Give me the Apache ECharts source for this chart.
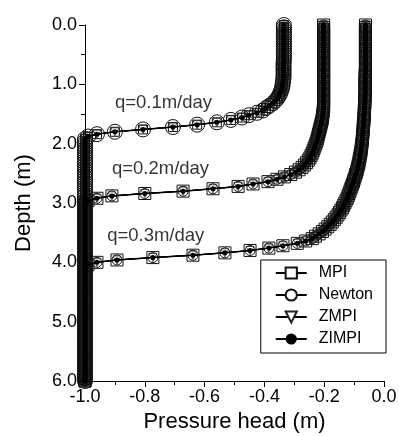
<!DOCTYPE html>
<html>
<head>
<meta charset="utf-8">
<script src="https://cdn.jsdelivr.net/npm/echarts@6/dist/echarts.min.js"></script>
<style>
html,body{margin:0;padding:0;background:#fff;}
#chart{width:399px;height:436px;}
</style>
</head>
<body>
<div id="chart"></div>
<script>
// Depth nodes (m)
const depth = [
 0.00,0.04,0.08,0.12,0.16,0.20,0.24,0.28,0.32,0.36,
 0.40,0.44,0.48,0.52,0.56,0.60,0.64,0.68,0.72,0.76,
 0.80,0.84,0.88,0.92,0.96,1.00,1.04,1.08,1.12,1.16,
 1.20,1.24,1.28,1.32,1.36,1.40,1.44,1.48,1.52,1.56,
 1.60,1.64,1.68,1.72,1.76,1.80,1.84,1.88,1.92,1.96,
 2.00,2.04,2.08,2.12,2.16,2.20,2.24,2.28,2.32,2.36,
 2.40,2.44,2.48,2.52,2.56,2.60,2.64,2.68,2.72,2.76,
 2.80,2.84,2.88,2.92,2.96,3.00,3.04,3.08,3.12,3.16,
 3.20,3.24,3.28,3.32,3.36,3.40,3.44,3.48,3.52,3.56,
 3.60,3.64,3.68,3.72,3.76,3.80,3.84,3.88,3.92,3.96,
 4.00,4.04,4.08,4.12,4.16,4.20,4.24,4.28,4.32,4.36,
 4.40,4.44,4.48,4.52,4.56,4.60,4.64,4.68,4.72,4.76,
 4.80,4.84,4.88,4.92,4.96,5.00,5.04,5.08,5.12,5.16,
 5.20,5.24,5.28,5.32,5.36,5.40,5.44,5.48,5.52,5.56,
 5.60,5.64,5.68,5.72,5.76,5.80,5.84,5.88,5.92,5.96,
 6.00];

// Pressure head (m), q = 0.1 m/day
const p01 = [
 -0.335,-0.335,-0.335,-0.335,-0.335,-0.335,-0.335,-0.335,-0.335,-0.335,
 -0.335,-0.335,-0.335,-0.335,-0.335,-0.335,-0.336,-0.336,-0.336,-0.336,
 -0.336,-0.336,-0.336,-0.337,-0.338,-0.339,-0.340,-0.342,-0.345,-0.348,
 -0.352,-0.357,-0.364,-0.372,-0.383,-0.395,-0.405,-0.425,-0.452,-0.475,
 -0.512,-0.559,-0.625,-0.706,-0.806,-0.900,-0.960,-0.990,-1.0,-1.0,
 -1.0,-1.0,-1.0,-1.0,-1.0,-1.0,-1.0,-1.0,-1.0,-1.0,
 -1.0,-1.0,-1.0,-1.0,-1.0,-1.0,-1.0,-1.0,-1.0,-1.0,
 -1.0,-1.0,-1.0,-1.0,-1.0,-1.0,-1.0,-1.0,-1.0,-1.0,
 -1.0,-1.0,-1.0,-1.0,-1.0,-1.0,-1.0,-1.0,-1.0,-1.0,
 -1.0,-1.0,-1.0,-1.0,-1.0,-1.0,-1.0,-1.0,-1.0,-1.0,
 -1.0,-1.0,-1.0,-1.0,-1.0,-1.0,-1.0,-1.0,-1.0,-1.0,
 -1.0,-1.0,-1.0,-1.0,-1.0,-1.0,-1.0,-1.0,-1.0,-1.0,
 -1.0,-1.0,-1.0,-1.0,-1.0,-1.0,-1.0,-1.0,-1.0,-1.0,
 -1.0,-1.0,-1.0,-1.0,-1.0,-1.0,-1.0,-1.0,-1.0,-1.0,
 -1.0,-1.0,-1.0,-1.0,-1.0,-1.0,-1.0,-1.0,-1.0,-1.0,
 -1.0];

// Pressure head (m), q = 0.2 m/day
const p02 = [
 -0.202,-0.202,-0.202,-0.202,-0.202,-0.202,-0.202,-0.202,-0.202,-0.202,
 -0.202,-0.202,-0.202,-0.202,-0.202,-0.202,-0.202,-0.202,-0.202,-0.202,
 -0.202,-0.202,-0.202,-0.202,-0.202,-0.202,-0.202,-0.202,-0.202,-0.202,
 -0.202,-0.202,-0.202,-0.202,-0.202,-0.202,-0.203,-0.204,-0.205,-0.206,
 -0.207,-0.209,-0.211,-0.213,-0.215,-0.217,-0.219,-0.221,-0.223,-0.225,
 -0.228,-0.231,-0.234,-0.237,-0.240,-0.244,-0.248,-0.253,-0.259,-0.266,
 -0.274,-0.284,-0.296,-0.312,-0.333,-0.358,-0.388,-0.438,-0.488,-0.572,
 -0.672,-0.800,-0.910,-0.960,-0.990,-1.0,-1.0,-1.0,-1.0,-1.0,
 -1.0,-1.0,-1.0,-1.0,-1.0,-1.0,-1.0,-1.0,-1.0,-1.0,
 -1.0,-1.0,-1.0,-1.0,-1.0,-1.0,-1.0,-1.0,-1.0,-1.0,
 -1.0,-1.0,-1.0,-1.0,-1.0,-1.0,-1.0,-1.0,-1.0,-1.0,
 -1.0,-1.0,-1.0,-1.0,-1.0,-1.0,-1.0,-1.0,-1.0,-1.0,
 -1.0,-1.0,-1.0,-1.0,-1.0,-1.0,-1.0,-1.0,-1.0,-1.0,
 -1.0,-1.0,-1.0,-1.0,-1.0,-1.0,-1.0,-1.0,-1.0,-1.0,
 -1.0,-1.0,-1.0,-1.0,-1.0,-1.0,-1.0,-1.0,-1.0,-1.0,
 -1.0];

// Pressure head (m), q = 0.3 m/day
const p03 = [
 -0.062,-0.062,-0.062,-0.062,-0.062,-0.062,-0.062,-0.062,-0.062,-0.062,
 -0.062,-0.062,-0.062,-0.062,-0.062,-0.062,-0.062,-0.062,-0.062,-0.062,
 -0.062,-0.063,-0.063,-0.063,-0.063,-0.063,-0.063,-0.063,-0.063,-0.063,
 -0.063,-0.064,-0.064,-0.064,-0.065,-0.065,-0.066,-0.066,-0.066,-0.067,
 -0.067,-0.068,-0.069,-0.069,-0.070,-0.070,-0.071,-0.072,-0.072,-0.073,
 -0.074,-0.075,-0.076,-0.077,-0.078,-0.080,-0.081,-0.083,-0.084,-0.086,
 -0.088,-0.090,-0.092,-0.095,-0.097,-0.100,-0.102,-0.105,-0.108,-0.111,
 -0.114,-0.117,-0.120,-0.123,-0.127,-0.131,-0.135,-0.139,-0.144,-0.149,
 -0.154,-0.160,-0.166,-0.173,-0.180,-0.188,-0.197,-0.206,-0.217,-0.229,
 -0.240,-0.262,-0.290,-0.338,-0.385,-0.448,-0.532,-0.639,-0.773,-0.893,
 -0.960,-0.990,-1.0,-1.0,-1.0,-1.0,-1.0,-1.0,-1.0,-1.0,
 -1.0,-1.0,-1.0,-1.0,-1.0,-1.0,-1.0,-1.0,-1.0,-1.0,
 -1.0,-1.0,-1.0,-1.0,-1.0,-1.0,-1.0,-1.0,-1.0,-1.0,
 -1.0,-1.0,-1.0,-1.0,-1.0,-1.0,-1.0,-1.0,-1.0,-1.0,
 -1.0,-1.0,-1.0,-1.0,-1.0,-1.0,-1.0,-1.0,-1.0,-1.0,
 -1.0];

const seriesNames = ['MPI', 'Newton', 'ZMPI', 'ZIMPI'];
const xTickLabels = ['-1.0', '-0.8', '-0.6', '-0.4', '-0.2', '0.0'];
const yTickLabels = ['0.0', '1.0', '2.0', '3.0', '4.0', '5.0', '6.0'];
const annotText = ['q=0.1m/day', 'q=0.2m/day', 'q=0.3m/day'];
const annotX = [-0.90, -0.91, -0.926];
const annotY = [1.31, 2.42, 3.55];

const FONT = "'Liberation Sans', Arial, sans-serif";
const profiles = [p01, p02, p03];

const methodStyle = {
  MPI:    { symbol: 'rect',     sizes: [9, 12, 12],  rotate: 0,   fill: 'rgba(0,0,0,0)', border: '#111', bw: 1 },
  Newton: { symbol: 'circle',   sizes: [15, 10, 10], rotate: 0,   fill: 'rgba(0,0,0,0)', border: '#111', bw: 1 },
  ZMPI:   { symbol: 'triangle', sizes: [8, 8, 8],    rotate: 180, fill: 'rgba(0,0,0,0)', border: '#222', bw: 0.8 },
  ZIMPI:  { symbol: 'circle',   sizes: [5, 5, 5],    rotate: 0,   fill: '#000',          border: '#000', bw: 0 }
};

const series = [];
seriesNames.forEach(function (name, mi) {
  const st = methodStyle[name];
  profiles.forEach(function (p, k) {
    series.push({
      type: 'line',
      name: name,
      data: depth.map(function (d, i) { return [p[i], d]; }),
      symbol: st.symbol,
      symbolSize: st.sizes[k],
      symbolRotate: st.rotate,
      showSymbol: true,
      showAllSymbol: true,
      clip: false,
      animation: false,
      silent: true,
      z: 2 + mi,
      itemStyle: { color: st.fill, borderColor: st.border, borderWidth: st.bw },
      lineStyle: { color: '#000', width: name === 'ZIMPI' ? 1.5 : 1 },
      emphasis: { disabled: true }
    });
  });
});

series.push({
  type: 'scatter',
  name: 'annot',
  data: annotText.map(function (t, i) { return { name: t, value: [annotX[i], annotY[i]] }; }),
  symbolSize: 0,
  silent: true,
  animation: false,
  z: 10,
  label: {
    show: true, position: 'right', distance: 0, formatter: '{b}',
    fontSize: 18.5, color: '#000', fontFamily: FONT
  }
});

const chart = echarts.init(document.getElementById('chart'), null, { renderer: 'canvas' });
chart.setOption({
  backgroundColor: '#fff',
  animation: false,
  textStyle: { fontFamily: FONT },
  grid: { left: 85, right: 15, top: 25, bottom: 55, containLabel: false, outerBoundsMode: 'none' },
  legend: {
    orient: 'vertical',
    right: 13,
    top: 260,
    data: seriesNames.map(function (n) {
      return { name: n, itemStyle: n === 'ZIMPI' ? { color: '#000' } : { color: '#fff' } };
    }),
    borderColor: '#000',
    borderWidth: 1,
    borderRadius: 0,
    padding: [5, 13, 6, 14],
    itemWidth: 31,
    itemHeight: 14,
    itemGap: 6,
    selectedMode: false,
    textStyle: { fontSize: 16, color: '#000', fontFamily: FONT, padding: [0, 0, 0, 7] }
  },
  xAxis: {
    type: 'value',
    min: -1, max: 0, interval: 0.2,
    name: 'Pressure head (m)',
    nameLocation: 'middle',
    nameGap: 25,
    nameTextStyle: { fontSize: 22, color: '#000', fontFamily: FONT },
    axisLine: { show: true, onZero: false, lineStyle: { color: '#000', width: 1 } },
    axisTick: { show: true, inside: false, length: 6, lineStyle: { color: '#000' } },
    minorTick: { show: true, splitNumber: 2, length: 4, lineStyle: { color: '#000' } },
    splitLine: { show: false },
    axisLabel: {
      fontSize: 18, color: '#000', margin: 7, fontFamily: FONT,
      formatter: function (v) { return xTickLabels[Math.round((v + 1) / 0.2)]; }
    }
  },
  yAxis: {
    type: 'value',
    inverse: true,
    min: 0, max: 6, interval: 1,
    name: 'Depth (m)',
    nameLocation: 'middle',
    nameGap: 50,
    nameTextStyle: { fontSize: 22, color: '#000', fontFamily: FONT },
    axisLine: { show: true, onZero: false, lineStyle: { color: '#000', width: 1 } },
    axisTick: { show: true, inside: false, length: 6, lineStyle: { color: '#000' } },
    minorTick: { show: true, splitNumber: 2, length: 4, lineStyle: { color: '#000' } },
    splitLine: { show: false },
    axisLabel: {
      fontSize: 18, color: '#000', margin: 8, fontFamily: FONT,
      formatter: function (v) { return yTickLabels[Math.round(v)]; }
    }
  },
  series: series
});
</script>
</body>
</html>
